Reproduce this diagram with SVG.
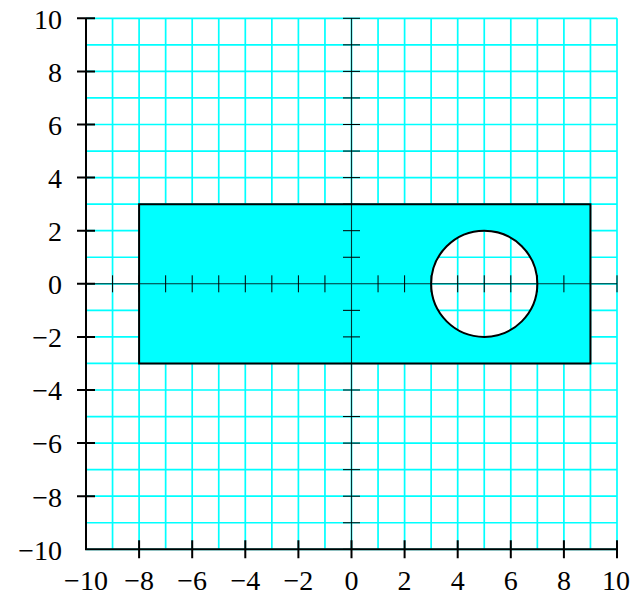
<svg xmlns="http://www.w3.org/2000/svg" width="634" height="596" viewBox="0 0 634 596">
<style>
.grid{stroke:#00ffff;stroke-width:1.7;fill:none}
.shape{fill:#00ffff;fill-rule:evenodd;stroke:#000;stroke-width:2}
.axis{stroke:#000;stroke-width:2;fill:none}
.maxis{stroke:#000;stroke-width:1.1;fill:none;opacity:0.8}
.mtick{stroke:#000;stroke-width:1;fill:none}
.lbl{font-family:"Liberation Serif","Times New Roman",serif;font-size:28px;fill:#000}
.xl{text-anchor:middle}
.yl{text-anchor:end}
</style>
<rect width="634" height="596" fill="#fff"/>
<g id="grid">
<path class="grid" d="M86 18.3V549.3M112.55 18.3V549.3M139.1 18.3V549.3M165.65 18.3V549.3M192.2 18.3V549.3M218.75 18.3V549.3M245.3 18.3V549.3M271.85 18.3V549.3M298.4 18.3V549.3M324.95 18.3V549.3M351.5 18.3V549.3M378.05 18.3V549.3M404.6 18.3V549.3M431.15 18.3V549.3M457.7 18.3V549.3M484.25 18.3V549.3M510.8 18.3V549.3M537.35 18.3V549.3M563.9 18.3V549.3M590.45 18.3V549.3M617 18.3V549.3"/>
<path class="grid" d="M86 18.3H617M86 44.85H617M86 71.4H617M86 97.95H617M86 124.5H617M86 151.05H617M86 177.6H617M86 204.15H617M86 230.7H617M86 257.25H617M86 283.8H617M86 310.35H617M86 336.9H617M86 363.45H617M86 390H617M86 416.55H617M86 443.1H617M86 469.65H617M86 496.2H617M86 522.75H617M86 549.3H617"/>
</g>
<g id="region">
<path class="shape" d="M139.1 204.15H590.45V363.45H139.1Z M431.15 283.8a53.1 53.1 0 1 0 106.2 0a53.1 53.1 0 1 0 -106.2 0Z"/>
</g>
<g id="connectors">
<g id="center-axes">
<path class="maxis" d="M86 283.8H617M351.5 18.3V549.3"/>
<path class="mtick" d="M112.55 275.3V292.3M139.1 275.3V292.3M165.65 275.3V292.3M192.2 275.3V292.3M218.75 275.3V292.3M245.3 275.3V292.3M271.85 275.3V292.3M298.4 275.3V292.3M324.95 275.3V292.3M378.05 275.3V292.3M404.6 275.3V292.3M431.15 275.3V292.3M457.7 275.3V292.3M484.25 275.3V292.3M510.8 275.3V292.3M537.35 275.3V292.3M563.9 275.3V292.3M590.45 275.3V292.3M617 275.3V292.3"/>
<path class="mtick" d="M343 18.3H360M343 44.85H360M343 71.4H360M343 97.95H360M343 124.5H360M343 151.05H360M343 177.6H360M343 204.15H360M343 230.7H360M343 257.25H360M343 310.35H360M343 336.9H360M343 363.45H360M343 390H360M343 416.55H360M343 443.1H360M343 469.65H360M343 496.2H360M343 522.75H360M343 549.3H360"/>
</g>
<g id="frame-axes">
<path class="axis" d="M86 18.3V549.3H617"/>
<path class="axis" d="M77 18.3H95M77 71.4H95M77 124.5H95M77 177.6H95M77 230.7H95M77 283.8H95M77 336.9H95M77 390H95M77 443.1H95M77 496.2H95"/>
<path class="axis" d="M139.1 540.3V558.3M192.2 540.3V558.3M245.3 540.3V558.3M298.4 540.3V558.3M351.5 540.3V558.3M404.6 540.3V558.3M457.7 540.3V558.3M510.8 540.3V558.3M563.9 540.3V558.3M617 540.3V558.3"/>
</g>
</g>
<g id="x-labels" class="lbl xl" font-family="Liberation Serif, serif">
<text x="86" y="589.8">−10</text>
<text x="139.1" y="589.8">−8</text>
<text x="192.2" y="589.8">−6</text>
<text x="245.3" y="589.8">−4</text>
<text x="298.4" y="589.8">−2</text>
<text x="351.5" y="589.8">0</text>
<text x="404.6" y="589.8">2</text>
<text x="457.7" y="589.8">4</text>
<text x="510.8" y="589.8">6</text>
<text x="563.9" y="589.8">8</text>
<text x="616" y="589.8">10</text>
</g>
<g id="y-labels" class="lbl yl" font-family="Liberation Serif, serif">
<text x="62" y="28.6">10</text>
<text x="62" y="81.7">8</text>
<text x="62" y="134.8">6</text>
<text x="62" y="187.9">4</text>
<text x="62" y="241">2</text>
<text x="62" y="294.1">0</text>
<text x="62" y="347.2">−2</text>
<text x="62" y="400.3">−4</text>
<text x="62" y="453.4">−6</text>
<text x="62" y="506.5">−8</text>
<text x="62" y="559.6">−10</text>
</g>
</svg>
